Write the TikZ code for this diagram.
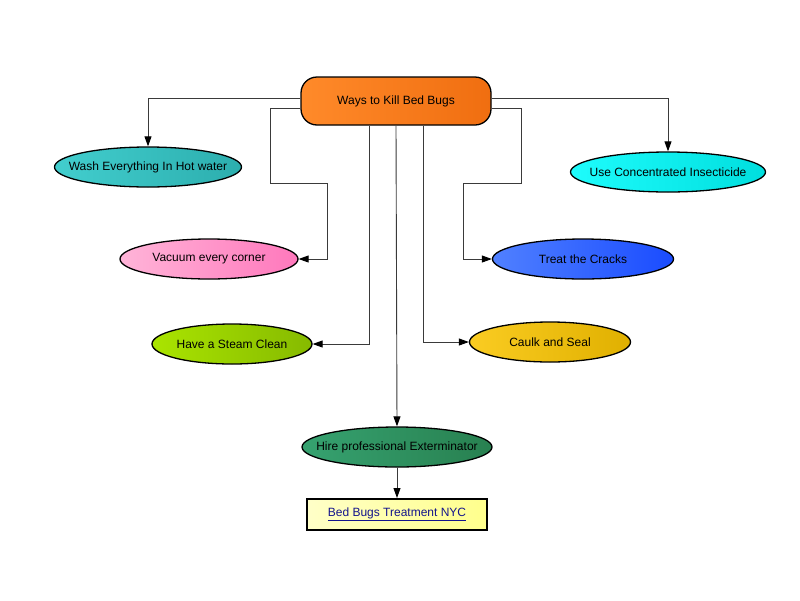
\documentclass[tikz,border=0pt]{standalone}
\usepackage{fontspec}
\setmainfont{Liberation Sans}
\usetikzlibrary{shapes.geometric,arrows.meta,calc}
\definecolor{linec}{HTML}{3A3A3A}
\tikzset{
  oval/.style={ellipse, draw=black, line width=1.3pt, inner sep=0pt, minimum height=40pt, font=\fontsize{12}{14}\selectfont},
  conn/.style={draw=linec, line width=0.9pt, -{Triangle[length=10pt,width=7pt,fill=black,color=black]}},
}
\newcommand{\zw}[1]{\makebox[0pt]{#1}}
\begin{document}
\begin{tikzpicture}[x=1pt,y=-1pt]
\useasboundingbox (0,0) rectangle (800,600);
\fill[white] (0,0) rectangle (800,600);
\node[draw=black, line width=1.3pt, rounded corners=16pt, minimum width=190pt, minimum height=48pt,
  left color={rgb,255:red,255;green,138;blue,42}, right color={rgb,255:red,240;green,110;blue,16},
  font=\fontsize{12}{14}\selectfont] (top) at (396,101) {Ways to Kill Bed Bugs};
\node[oval, minimum width=187pt,
  left color={rgb,255:red,66;green,206;blue,206}, right color={rgb,255:red,44;green,174;blue,174}] (wash) at (148,167) {\zw{Wash Everything In Hot water}};
\node[oval, minimum width=195pt,
  left color={rgb,255:red,30;green,252;blue,252}, right color={rgb,255:red,0;green,222;blue,222}] (conc) at (668,172) {\zw{Use Concentrated Insecticide}};
\node[oval, minimum width=178pt,
  left color={rgb,255:red,255;green,180;blue,216}, right color={rgb,255:red,255;green,120;blue,188}] (vac) at (209,259) {\zw{Vacuum every corner}};
\node[oval, minimum width=181pt,
  left color={rgb,255:red,80;green,128;blue,255}, right color={rgb,255:red,26;green,76;blue,255}] (treat) at (583,259) {\zw{Treat the Cracks}};
\node[oval, minimum width=160pt,
  left color={rgb,255:red,170;green,228;blue,0}, right color={rgb,255:red,134;green,186;blue,0}] (steam) at (232,344) {\zw{Have a Steam Clean}};
\node[oval, minimum width=161pt,
  left color={rgb,255:red,250;green,204;blue,34}, right color={rgb,255:red,224;green,176;blue,0}] (caulk) at (550,342) {\zw{Caulk and Seal}};
\node[oval, minimum width=190pt,
  left color={rgb,255:red,54;green,162;blue,112}, right color={rgb,255:red,40;green,128;blue,80}] (hire) at (397,447) {\zw{Hire professional Exterminator}};
\node[draw=black, line width=2pt, minimum width=180pt, minimum height=31pt,
  left color={rgb,255:red,255;green,255;blue,200}, right color={rgb,255:red,255;green,255;blue,140},
  text={rgb,255:red,20;green,20;blue,140}, font=\fontsize{12}{14}\selectfont] (link) at (397,514.5) {\underline{Bed Bugs Treatment NYC}};

\draw[conn] ($(top.west)+(0,-3)$) -| (wash.north);
\draw[conn] ($(top.east)+(0,-3)$) -| (conc.north);
\draw[conn] ($(top.west)+(0,7)$) -- ++(-30,0) -- ++(0,75) -- ++(57,0) |- (vac.east);
\draw[conn] ($(top.east)+(0,7)$) -- ++(30,0) -- ++(0,75) -- ++(-58,0) |- (treat.west);
\draw[conn] ($(top.south)+(-27,0)$) |- (steam.east);
\draw[conn] ($(top.south)+(27,0)$) |- (caulk.west);
\draw[conn] (top.south) -- (hire.north);
\draw[conn] (hire.south) -- (link.north);
\end{tikzpicture}
\end{document}
